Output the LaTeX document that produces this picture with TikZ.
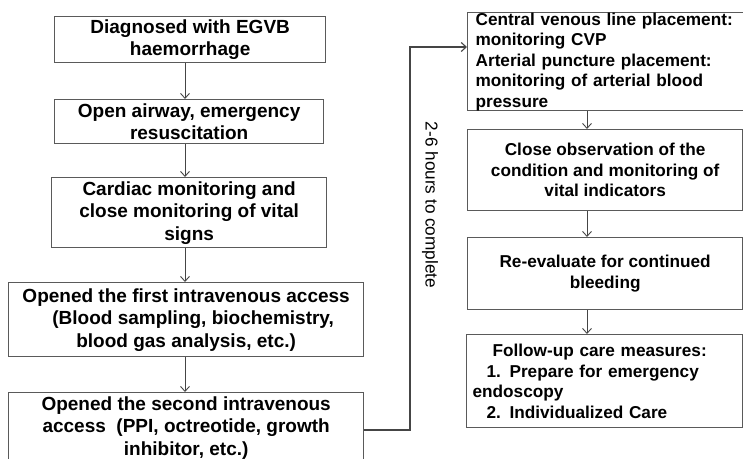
\documentclass[tikz,border=0pt]{standalone}
\usepackage{fontspec}
\setmainfont{Liberation Sans}
\usetikzlibrary{arrows.meta}
\definecolor{boxgray}{HTML}{5A5A5A}
\definecolor{linegray}{HTML}{454545}
\begin{document}
\begin{tikzpicture}[x=1pt,y=-1pt,
  boxl/.style={draw=boxgray, line width=1.3pt, anchor=north west, inner sep=0pt,
    align=center, font=\fontsize{19}{22.5}\selectfont\bfseries},
  boxr/.style={draw=boxgray, line width=1.3pt, anchor=north west, inner sep=0pt,
    align=center, font=\fontsize{17.2}{20.5}\selectfont\bfseries},
  flow/.style={draw=linegray, line width=0.9pt, -{Straight Barb[length=5pt,width=9pt]}}]
\useasboundingbox (0,0) rectangle (743,458);
% left column
\node[boxl, minimum width=271pt, minimum height=46pt] (L1) at (54,16)
  {Diagnosed with EGVB\\haemorrhage};
\node[boxl, minimum width=269pt, minimum height=44pt] (L2) at (54,99)
  {Open airway, emergency\\resuscitation};
\node[boxl, minimum width=275pt, minimum height=70pt] (L3) at (51,177)
  {Cardiac monitoring and\\close monitoring of vital\\signs};
\node[boxl, minimum width=355pt, minimum height=74pt] (L4) at (8,282)
  {Opened the first intravenous access\\\hspace*{14pt}(Blood sampling, biochemistry,\\blood gas analysis, etc.)};
\node[boxl, minimum width=355pt, minimum height=70pt] (L5) at (8,392)
  {Opened the second intravenous\\access\ \ (PPI, octreotide, growth\\inhibitor, etc.)};
% right column
\node[boxr, minimum width=275pt, minimum height=97pt, align=left, text width=260pt, inner xsep=8pt] (R1) at (467,12)
  {Central venous line placement:\\monitoring CVP\\Arterial puncture placement:\\monitoring of arterial blood\\pressure};
\node[boxr, minimum width=275pt, minimum height=81pt, text depth=-3pt] (R2) at (467,129)
  {Close observation of the\\condition and monitoring of\\vital indicators};
\node[boxr, minimum width=275pt, minimum height=72pt] (R3) at (467,237)
  {Re-evaluate for continued\\bleeding};
\node[boxr, minimum width=276pt, minimum height=93pt, align=left, text width=264pt, inner xsep=6pt] (R4) at (466,334)
  {\hspace*{20pt}Follow-up care measures:\\\hspace*{14pt}1. Prepare for emergency\\endoscopy\\\hspace*{14pt}2. Individualized Care};
% arrow columns
\coordinate (lx) at (185,0);
\coordinate (rx) at (587,0);
\draw[flow] (L1.south -| lx) -- (L2.north -| lx);
\draw[flow] (L2.south -| lx) -- (L3.north -| lx);
\draw[flow] (L3.south -| lx) -- (L4.north -| lx);
\draw[flow] (L4.south -| lx) -- (L5.north -| lx);
\draw[flow] (R1.south -| rx) -- (R2.north -| rx);
\draw[flow] (R2.south -| rx) -- (R3.north -| rx);
\draw[flow] (R3.south -| rx) -- (R4.north -| rx);
% long connector
\coordinate (c1) at (410,430);
\coordinate (c2) at (410,47);
\draw[flow, line width=1.1pt] (L5.east |- c1) -- (c1) -- (c2) -- (c2 -| R1.west);
\node[rotate=-90, font=\fontsize{17.2}{20}\selectfont, text=black] (lbl) at (430,205) {2-6 hours to complete};
\end{tikzpicture}
\end{document}
